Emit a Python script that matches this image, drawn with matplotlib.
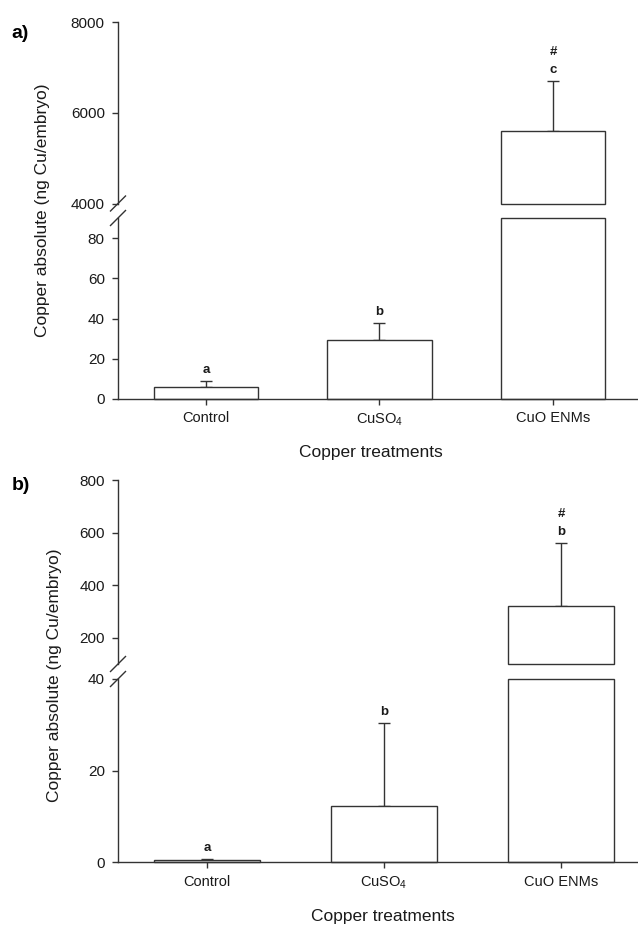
import matplotlib
matplotlib.use("Agg")
import matplotlib.pyplot as plt
import numpy as np

plt.rcParams['font.family'] = ['Liberation Sans', 'DejaVu Sans']
plt.rcParams['mathtext.fontset'] = 'custom'
plt.rcParams['mathtext.rm'] = 'Liberation Sans'
plt.rcParams['mathtext.it'] = 'Liberation Sans:italic'
plt.rcParams['mathtext.bf'] = 'Liberation Sans:bold'

# ---------------- data ----------------
categories = ["Control", "CuSO$_4$", "CuO ENMs"]

a_means = [6.1, 29.3, 5590]
a_errs = [2.8, 8.4, 1106]
a_letters = ["a", "b", "c"]
a_marks = ["", "", "#"]
a_lower_lim = (0, 90)
a_upper_lim = (4000, 8000)
a_lower_ticks = [0, 20, 40, 60, 80]
a_upper_ticks = [4000, 6000, 8000]

b_means = [0.45, 12.2, 322]
b_errs = [0.2, 18.2, 237]
b_letters = ["a", "b", "b"]
b_marks = ["", "", "#"]
b_lower_lim = (0, 40)
b_upper_lim = (100, 800)
b_lower_ticks = [0, 20, 40]
b_upper_ticks = [200, 400, 600, 800]

ylabel = "Copper absolute (ng Cu/embryo)"
xlabel = "Copper treatments"

# ---------------- layout ----------------
W, H = 638, 926
fig = plt.figure(figsize=(W / 100, H / 100), dpi=100)
fig.patch.set_facecolor("white")

def rect(l, t, r, b):
    return [l / W, 1 - b / H, (r - l) / W, (b - t) / H]

LINE = "#333333"
TXT = "#1a1a1a"

def style_axis(ax, show_x):
    for s in ["top", "right"]:
        ax.spines[s].set_visible(False)
    ax.spines["left"].set_color(LINE)
    ax.spines["left"].set_linewidth(1.0)
    ax.tick_params(axis="y", direction="out", length=4, width=1.0, color=LINE,
                   labelsize=11, labelcolor=TXT, pad=5.5)
    if show_x:
        ax.spines["bottom"].set_color(LINE)
        ax.spines["bottom"].set_linewidth(1.0)
        ax.tick_params(axis="x", direction="out", length=4, width=1.0, color=LINE,
                       labelsize=10.5, labelcolor=TXT, pad=5)
    else:
        ax.spines["bottom"].set_visible(False)
        ax.tick_params(axis="x", bottom=False, labelbottom=False)

def panel(rect_up, rect_lo, means, errs, letters, marks, lo_lim, up_lim,
          lo_ticks, up_ticks, xlim):
    ax_up = fig.add_axes(rect_up)
    ax_lo = fig.add_axes(rect_lo)
    x = np.arange(len(categories))
    means = np.asarray(means, dtype=float)
    errs = np.asarray(errs, dtype=float)
    width = 0.6

    # lower part of bars (cut at the break)
    lo_h = np.minimum(means, lo_lim[1])
    ax_lo.bar(x, lo_h, width=width, color="white", edgecolor=LINE,
              linewidth=1.0, clip_on=False, zorder=2)
    # upper part of bars (only those passing the break)
    big = means > lo_lim[1]
    ax_up.bar(x[big], means[big] - up_lim[0], bottom=up_lim[0], width=width,
              color="white", edgecolor=LINE, linewidth=1.0, clip_on=False, zorder=2)

    for i in range(len(x)):
        ax = ax_up if big[i] else ax_lo
        ax.errorbar(x[i], means[i], yerr=[[0], [errs[i]]], fmt="none",
                    ecolor=LINE, elinewidth=1.0, capsize=4.5, capthick=1.0,
                    zorder=1)
        top = means[i] + errs[i]
        ax.annotate(letters[i], (x[i], top), xytext=(0, 8),
                    textcoords="offset points", ha="center", va="center",
                    fontsize=9.5, fontweight="bold", color=TXT)
        if marks[i]:
            ax.annotate(marks[i], (x[i], top), xytext=(0, 21),
                        textcoords="offset points", ha="center", va="center",
                        fontsize=9.5, fontweight="bold", color=TXT)

    for ax in (ax_up, ax_lo):
        ax.set_xlim(*xlim)
        ax.set_facecolor("none")
    ax_lo.set_ylim(*lo_lim)
    ax_up.set_ylim(*up_lim)
    ax_lo.set_yticks(lo_ticks)
    ax_up.set_yticks(up_ticks)
    ax_lo.set_xticks(x)
    ax_lo.set_xticklabels(categories)
    style_axis(ax_up, False)
    style_axis(ax_lo, True)
    return ax_up, ax_lo

def break_marks(ax, yfrac):
    # slash centred on the axis end, in pixels
    x0, y0 = ax.transAxes.transform((0, yfrac))
    dx, dy = 7.5, 7.5
    p = fig.transFigure.inverted().transform([(x0 - dx, y0 - dy), (x0 + dx, y0 + dy)])
    fig.lines.append(plt.Line2D(p[:, 0], p[:, 1], transform=fig.transFigure,
                                color=LINE, linewidth=1.0))

a_up, a_lo = panel(rect(118, 22, 638, 203.5), rect(118, 218, 638, 399),
                   a_means, a_errs, a_letters, a_marks, a_lower_lim, a_upper_lim,
                   a_lower_ticks, a_upper_ticks, (-0.507, 2.49))
b_up, b_lo = panel(rect(118, 480, 638, 664), rect(118, 679, 638, 862),
                   b_means, b_errs, b_letters, b_marks, b_lower_lim, b_upper_lim,
                   b_lower_ticks, b_upper_ticks, (-0.503, 2.435))

for ax_up, ax_lo in ((a_up, a_lo), (b_up, b_lo)):
    break_marks(ax_up, 0.0)
    break_marks(ax_lo, 1.0)

# axis labels and panel letters
fig.text(43 / W, 1 - 210 / H, ylabel, rotation=90, ha="center", va="center",
         fontsize=12.5, color=TXT)
fig.text(55 / W, 1 - 675 / H, ylabel, rotation=90, ha="center", va="center",
         fontsize=12.5, color=TXT)
fig.text(371 / W, 1 - 452 / H, xlabel, ha="center", va="center",
         fontsize=12.5, color=TXT)
fig.text(383 / W, 1 - 917 / H, xlabel, ha="center", va="center",
         fontsize=12.5, color=TXT)
fig.text(11 / W, 1 - 33 / H, "a)", ha="left", va="center", fontsize=14,
         fontweight="bold", color="black")
fig.text(12 / W, 1 - 486 / H, "b)", ha="left", va="center", fontsize=14,
         fontweight="bold", color="black")

fig.savefig("out.png", dpi=100, facecolor="white")
